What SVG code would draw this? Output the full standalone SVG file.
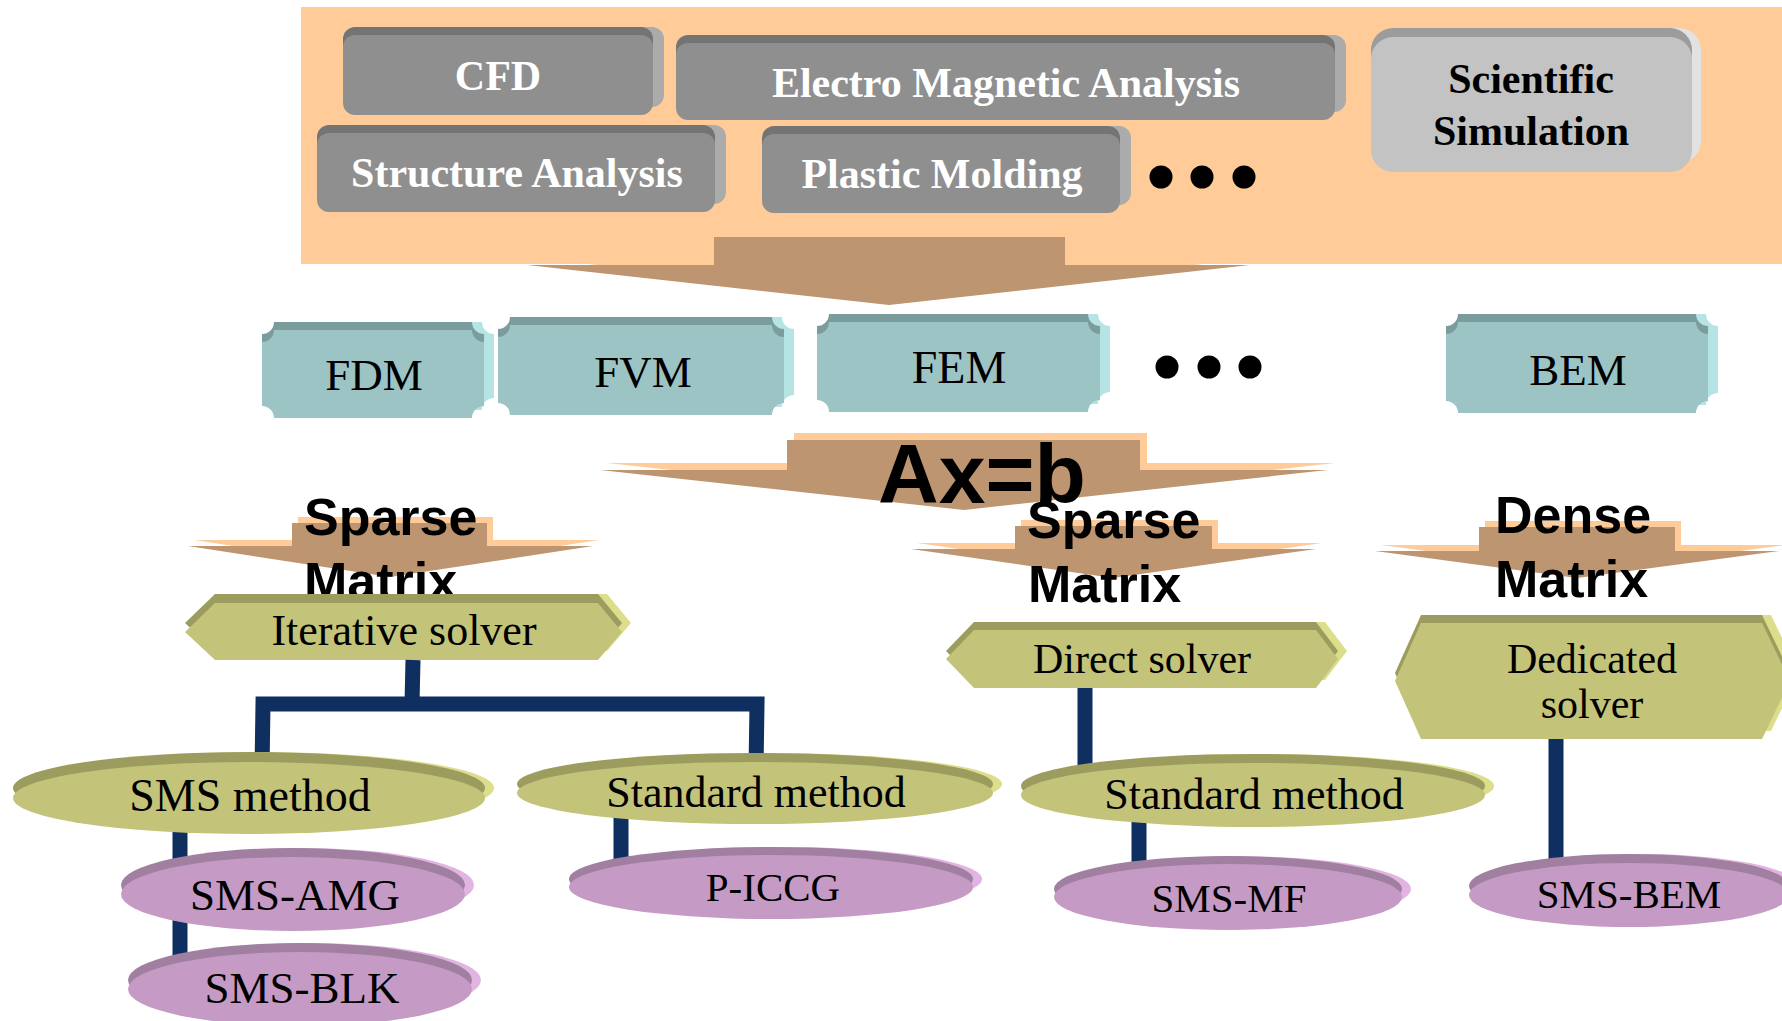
<svg xmlns="http://www.w3.org/2000/svg" xmlns:xlink="http://www.w3.org/1999/xlink" width="1782" height="1021" viewBox="0 0 1782 1021">
<style>
.bg{fill:#FFCC99}
.ar{fill:#BD9571}
.arl{fill:#FFCC99}
.gf{fill:#8F8F8F}.gd{fill:#747474}.gl{fill:#ABABAB}
.sf{fill:#C3C3C3}.sd{fill:#9C9C9C}.sl{fill:#E2E2E2}
.tf{fill:#9DC4C4}.td{fill:#7B9C9C}.tl{fill:#B6E4E4}
.of{fill:#C3C47A}.od{fill:#9D9C5F}.ol{fill:#DDDE8B}
.pf{fill:#C59BC5}.pd{fill:#A07FA0}.pl{fill:#E2B4E2}
.wt{font-family:"Liberation Serif",serif;font-weight:bold;font-size:42px;fill:#FFFFFF;text-anchor:middle}
.bt{font-family:"Liberation Serif",serif;font-weight:bold;font-size:42px;fill:#000000;text-anchor:middle}
.st{font-family:"Liberation Serif",serif;font-size:44px;fill:#000000;text-anchor:middle}
.mt{font-family:"Liberation Sans",Arial,sans-serif;font-weight:bold;font-size:52px;fill:#000000}
.ax{font-family:"Liberation Sans",Arial,sans-serif;font-weight:bold;font-size:84px;fill:#000000}
.dot{fill:#000000}
.cn{fill:none;stroke:#0E2F5F;stroke-width:15}
</style>
<defs>
<rect id="r-cfd" x="343" y="35" width="310" height="80" rx="12"/>
<rect id="r-ema" x="676" y="43" width="659" height="77" rx="12"/>
<rect id="r-sa" x="317" y="133" width="398" height="79" rx="12"/>
<rect id="r-pm" x="762" y="134" width="358" height="79" rx="12"/>
<rect id="r-ss" x="1371" y="37" width="321" height="135" rx="22"/>
<path id="p-fdm" d="M274,330 H472 A12,12 0 0 0 484,342 V406 A12,12 0 0 0 472,418 H274 A12,12 0 0 0 262,406 V342 A12,12 0 0 0 274,330 Z"/>
<path id="p-fvm" d="M510,325 H772 A12,12 0 0 0 784,337 V403 A12,12 0 0 0 772,415 H510 A12,12 0 0 0 498,403 V337 A12,12 0 0 0 510,325 Z"/>
<path id="p-fem" d="M829,322 H1088 A12,12 0 0 0 1100,334 V400 A12,12 0 0 0 1088,412 H829 A12,12 0 0 0 817,400 V334 A12,12 0 0 0 829,322 Z"/>
<path id="p-bem" d="M1458,322 H1696 A12,12 0 0 0 1708,334 V401 A12,12 0 0 0 1696,413 H1458 A12,12 0 0 0 1446,401 V334 A12,12 0 0 0 1458,322 Z"/>
<path id="a1" d="M714,237 H1065 V265 H1250 L889,305 L527,265 H714 Z"/>
<path id="a2" d="M787,440 H1140 V470 H1328 L964,510 L600,470 H787 Z"/>
<path id="a3" d="M292,523 H487 V546 H593 L390,577 L188,546 H292 Z"/>
<path id="a4" d="M1015,526 H1212 V549 H1316 L1113,578 L911,549 H1015 Z"/>
<path id="a5" d="M1479,527 H1675 V551 H1779 L1577,578 L1375,551 H1479 Z"/>
<polygon id="h-it" points="185,632 215,603 598,603 622,632 598,660 215,660"/>
<polygon id="h-di" points="946,659 974,630 1316,630 1338,659 1316,688 974,688"/>
<polygon id="h-de" points="1395,681 1421,623 1762,623 1790,681 1762,739 1421,739"/>
<ellipse id="e-sms" cx="249" cy="798" rx="236" ry="36"/>
<ellipse id="e-stl" cx="755" cy="793" rx="238" ry="31"/>
<ellipse id="e-str" cx="1253" cy="795" rx="232" ry="32"/>
<ellipse id="e-amg" cx="293" cy="894" rx="172" ry="37"/>
<ellipse id="e-blk" cx="300" cy="989" rx="172" ry="37"/>
<ellipse id="e-icc" cx="771" cy="887" rx="202" ry="32"/>
<ellipse id="e-mf" cx="1228" cy="897" rx="174" ry="33"/>
<ellipse id="e-bem" cx="1629" cy="895" rx="160" ry="32"/>
</defs>

<rect id="background" class="bg" x="301" y="7" width="1481" height="257"/>

<g id="arrow-top">
<use xlink:href="#a1" class="arl" transform="translate(7,-7)"/>
<use xlink:href="#a1" class="ar"/>
</g>

<g id="node-cfd">
<use xlink:href="#r-cfd" class="gl" transform="translate(11,-8)"/>
<use xlink:href="#r-cfd" class="gd" transform="translate(0,-8)"/>
<use xlink:href="#r-cfd" class="gf"/>
<text class="wt" x="498" y="90">CFD</text>
</g>
<g id="node-ema">
<use xlink:href="#r-ema" class="gl" transform="translate(11,-8)"/>
<use xlink:href="#r-ema" class="gd" transform="translate(0,-8)"/>
<use xlink:href="#r-ema" class="gf"/>
<text class="wt" x="1006" y="97">Electro Magnetic Analysis</text>
</g>
<g id="node-sa">
<use xlink:href="#r-sa" class="gl" transform="translate(11,-8)"/>
<use xlink:href="#r-sa" class="gd" transform="translate(0,-8)"/>
<use xlink:href="#r-sa" class="gf"/>
<text class="wt" x="517" y="187">Structure Analysis</text>
</g>
<g id="node-pm">
<use xlink:href="#r-pm" class="gl" transform="translate(11,-8)"/>
<use xlink:href="#r-pm" class="gd" transform="translate(0,-8)"/>
<use xlink:href="#r-pm" class="gf"/>
<text class="wt" x="942" y="188">Plastic Molding</text>
</g>
<g id="dots-top">
<circle class="dot" cx="1161" cy="177" r="11.5"/>
<circle class="dot" cx="1202" cy="177" r="11.5"/>
<circle class="dot" cx="1244" cy="177" r="11.5"/>
</g>
<g id="node-ss">
<use xlink:href="#r-ss" class="sl" transform="translate(9,-9)"/>
<use xlink:href="#r-ss" class="sd" transform="translate(0,-9)"/>
<use xlink:href="#r-ss" class="sf"/>
<text class="bt" x="1531" y="93">Scientific</text>
<text class="bt" x="1531" y="145">Simulation</text>
</g>

<g id="node-fdm">
<use xlink:href="#p-fdm" class="tl" transform="translate(10,-8)"/>
<use xlink:href="#p-fdm" class="td" transform="translate(0,-8)"/>
<use xlink:href="#p-fdm" class="tf"/>
<text class="st" x="374" y="390" style="font-size:45px">FDM</text>
</g>
<g id="node-fvm">
<use xlink:href="#p-fvm" class="tl" transform="translate(10,-8)"/>
<use xlink:href="#p-fvm" class="td" transform="translate(0,-8)"/>
<use xlink:href="#p-fvm" class="tf"/>
<text class="st" x="643" y="387" style="font-size:45px">FVM</text>
</g>
<g id="node-fem">
<use xlink:href="#p-fem" class="tl" transform="translate(10,-8)"/>
<use xlink:href="#p-fem" class="td" transform="translate(0,-8)"/>
<use xlink:href="#p-fem" class="tf"/>
<text class="st" x="959" y="383" style="font-size:46px">FEM</text>
</g>
<g id="dots-mid">
<circle class="dot" cx="1167" cy="367" r="11.5"/>
<circle class="dot" cx="1209" cy="367" r="11.5"/>
<circle class="dot" cx="1250" cy="367" r="11.5"/>
</g>
<g id="node-bem">
<use xlink:href="#p-bem" class="tl" transform="translate(10,-8)"/>
<use xlink:href="#p-bem" class="td" transform="translate(0,-8)"/>
<use xlink:href="#p-bem" class="tf"/>
<text class="st" x="1578" y="385" style="font-size:45px">BEM</text>
</g>

<g id="arrow-axb">
<use xlink:href="#a2" class="arl" transform="translate(7,-7)"/>
<use xlink:href="#a2" class="ar"/>
</g>
<g id="arrow-sparse-left">
<use xlink:href="#a3" class="arl" transform="translate(6,-6)"/>
<use xlink:href="#a3" class="ar"/>
</g>
<g id="arrow-sparse-mid">
<use xlink:href="#a4" class="arl" transform="translate(6,-6)"/>
<use xlink:href="#a4" class="ar"/>
</g>
<g id="arrow-dense">
<use xlink:href="#a5" class="arl" transform="translate(6,-6)"/>
<use xlink:href="#a5" class="ar"/>
</g>

<g id="labels-matrix">
<text class="ax" x="878" y="503">Ax=b</text>
<text class="mt" x="304" y="535">Sparse</text>
<text class="mt" x="304" y="599">Matrix</text>
<text class="mt" x="1027" y="538">Sparse</text>
<text class="mt" x="1028" y="602">Matrix</text>
<text class="mt" x="1495" y="533">Dense</text>
<text class="mt" x="1495" y="597">Matrix</text>
</g>

<g id="node-iterative">
<use xlink:href="#h-it" class="ol" transform="translate(9,-9)"/>
<use xlink:href="#h-it" class="od" transform="translate(0,-9)"/>
<use xlink:href="#h-it" class="of"/>
<text class="st" x="404" y="645">Iterative solver</text>
</g>
<g id="node-direct">
<use xlink:href="#h-di" class="ol" transform="translate(9,-8)"/>
<use xlink:href="#h-di" class="od" transform="translate(0,-8)"/>
<use xlink:href="#h-di" class="of"/>
<text class="st" x="1142" y="673" style="font-size:42px">Direct solver</text>
</g>
<g id="node-dedicated">
<use xlink:href="#h-de" class="ol" transform="translate(9,-8)"/>
<use xlink:href="#h-de" class="od" transform="translate(0,-8)"/>
<use xlink:href="#h-de" class="of"/>
<text class="st" x="1592" y="673" style="font-size:42px">Dedicated</text>
<text class="st" x="1592" y="718" style="font-size:42px">solver</text>
</g>

<g id="connectors">
<path class="cn" d="M413,660 L412,704"/>
<path class="cn" d="M262,770 L263,704 L757,704 L756,770"/>
<path class="cn" d="M180,820 V965"/>
<path class="cn" d="M621,815 V865"/>
<path class="cn" d="M1085,688 V775"/>
<path class="cn" d="M1139,815 V870"/>
<path class="cn" d="M1556,739 V865"/>
</g>

<g id="node-sms-method">
<use xlink:href="#e-sms" class="ol" transform="translate(9,-10)"/>
<use xlink:href="#e-sms" class="od" transform="translate(0,-10)"/>
<use xlink:href="#e-sms" class="of"/>
<text class="st" x="250" y="811" style="font-size:46px">SMS method</text>
</g>
<g id="node-standard-left">
<use xlink:href="#e-stl" class="ol" transform="translate(9,-9)"/>
<use xlink:href="#e-stl" class="od" transform="translate(0,-9)"/>
<use xlink:href="#e-stl" class="of"/>
<text class="st" x="756" y="807">Standard method</text>
</g>
<g id="node-standard-right">
<use xlink:href="#e-str" class="ol" transform="translate(9,-9)"/>
<use xlink:href="#e-str" class="od" transform="translate(0,-9)"/>
<use xlink:href="#e-str" class="of"/>
<text class="st" x="1254" y="809">Standard method</text>
</g>
<g id="node-sms-amg">
<use xlink:href="#e-amg" class="pl" transform="translate(9,-9)"/>
<use xlink:href="#e-amg" class="pd" transform="translate(0,-9)"/>
<use xlink:href="#e-amg" class="pf"/>
<text class="st" x="295" y="910" style="font-size:45px">SMS-AMG</text>
</g>
<g id="node-sms-blk">
<use xlink:href="#e-blk" class="pl" transform="translate(9,-9)"/>
<use xlink:href="#e-blk" class="pd" transform="translate(0,-9)"/>
<use xlink:href="#e-blk" class="pf"/>
<text class="st" x="302" y="1003" style="font-size:45px">SMS-BLK</text>
</g>
<g id="node-p-iccg">
<use xlink:href="#e-icc" class="pl" transform="translate(9,-8)"/>
<use xlink:href="#e-icc" class="pd" transform="translate(0,-8)"/>
<use xlink:href="#e-icc" class="pf"/>
<text class="st" x="773" y="901" style="font-size:41px">P-ICCG</text>
</g>
<g id="node-sms-mf">
<use xlink:href="#e-mf" class="pl" transform="translate(9,-8)"/>
<use xlink:href="#e-mf" class="pd" transform="translate(0,-8)"/>
<use xlink:href="#e-mf" class="pf"/>
<text class="st" x="1229" y="912" style="font-size:41px">SMS-MF</text>
</g>
<g id="node-sms-bem">
<use xlink:href="#e-bem" class="pl" transform="translate(9,-9)"/>
<use xlink:href="#e-bem" class="pd" transform="translate(0,-9)"/>
<use xlink:href="#e-bem" class="pf"/>
<text class="st" x="1629" y="908" style="font-size:41px">SMS-BEM</text>
</g>
</svg>
